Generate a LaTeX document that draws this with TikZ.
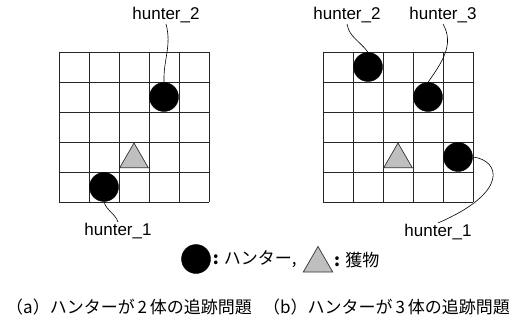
\documentclass[tikz,border=0pt]{standalone}
\usepackage{fontspec}
\setmainfont{Liberation Sans}
\newfontfamily\jpfont{Noto Sans CJK JP}
\usetikzlibrary{positioning,shapes.geometric}

\begin{document}
\begin{tikzpicture}[
    x=1pt, y=-1pt,
    gridline/.style={draw, black!85, line width=0.9pt},
    hunter/.style={circle, fill=black, draw=black, minimum size=29pt, inner sep=0pt},
    prey/.style={regular polygon, regular polygon sides=3, draw=black!80,
                 fill=black!25, minimum size=33pt, inner sep=0pt, line width=0.7pt},
    lab/.style={font=\fontsize{17}{19}\selectfont, inner sep=1pt},
    lead/.style={draw, black, line width=0.6pt},
    jptext/.style={font=\jpfont\fontsize{17}{19}\selectfont, inner sep=0pt},
  ]
  \useasboundingbox (0,0) rectangle (516,323);

  % ---------------------------------------------------------------
  % the two 5x5 boards, (a) left and (b) right
  % ---------------------------------------------------------------
  \foreach \gx in {59,323}{
    \foreach \k in {0,...,5}{
      \draw[gridline] (\gx+30*\k,52) -- (\gx+30*\k,202);
      \draw[gridline] (\gx,52+30*\k) -- (\gx+150,52+30*\k);
    }
  }

  % ---------------------------------------------------------------
  % (a) two hunters
  % ---------------------------------------------------------------
  \node[hunter] (Ha2) at (164,97) {};
  \node[hunter] (Ha1) at (104,187) {};
  \node[prey] (Pa) at (134,159.5) {};

  \node[lab] (La2) at (166,15) {hunter\_2};
  \node[lab] (La1) at (118,231) {hunter\_1};
  \draw[lead] (La2.south) to[out=-75, in=92] (Ha2.north);
  \draw[lead] (Ha1.south) to[out=-75, in=110] (La1.north);

  % ---------------------------------------------------------------
  % (b) three hunters
  % ---------------------------------------------------------------
  \node[hunter] (Hb2) at (368,67) {};
  \node[hunter] (Hb3) at (428,97) {};
  \node[hunter] (Hb1) at (458,157) {};
  \node[prey] (Pb) at (398,159.5) {};

  \node[lab] (Lb2) at (347,15) {hunter\_2};
  \node[lab] (Lb3) at (443,15) {hunter\_3};
  \node[lab] (Lb1) at (438,232) {hunter\_1};
  \draw[lead] (Lb2.south) to[out=-80, in=125] (Hb2.north);
  \draw[lead] (Lb3.south) to[out=-60, in=55] (Hb3.north);
  \draw[lead] (Hb1.east) .. controls (500,160) and (510,192) .. (Lb1.north);

  % ---------------------------------------------------------------
  % legend and captions
  % ---------------------------------------------------------------
  \node[hunter] (legH) at (196,259) {};
  \node[jptext, right=2pt of legH] (legHt) {\textbf{:} ハンター,};
  \node[prey, minimum size=34pt] (legP) at (318,263.5) {};
  \node[jptext, anchor=west] (legPt) at (334,260) {\textbf{:} 獲物};

  \node[jptext, anchor=west] (capA) at (6,307) {（a）ハンターが\,2\,体の追跡問題};
  \node[jptext, anchor=east] (capB) at (510,307) {（b）ハンターが\,3\,体の追跡問題};
\end{tikzpicture}
\end{document}
